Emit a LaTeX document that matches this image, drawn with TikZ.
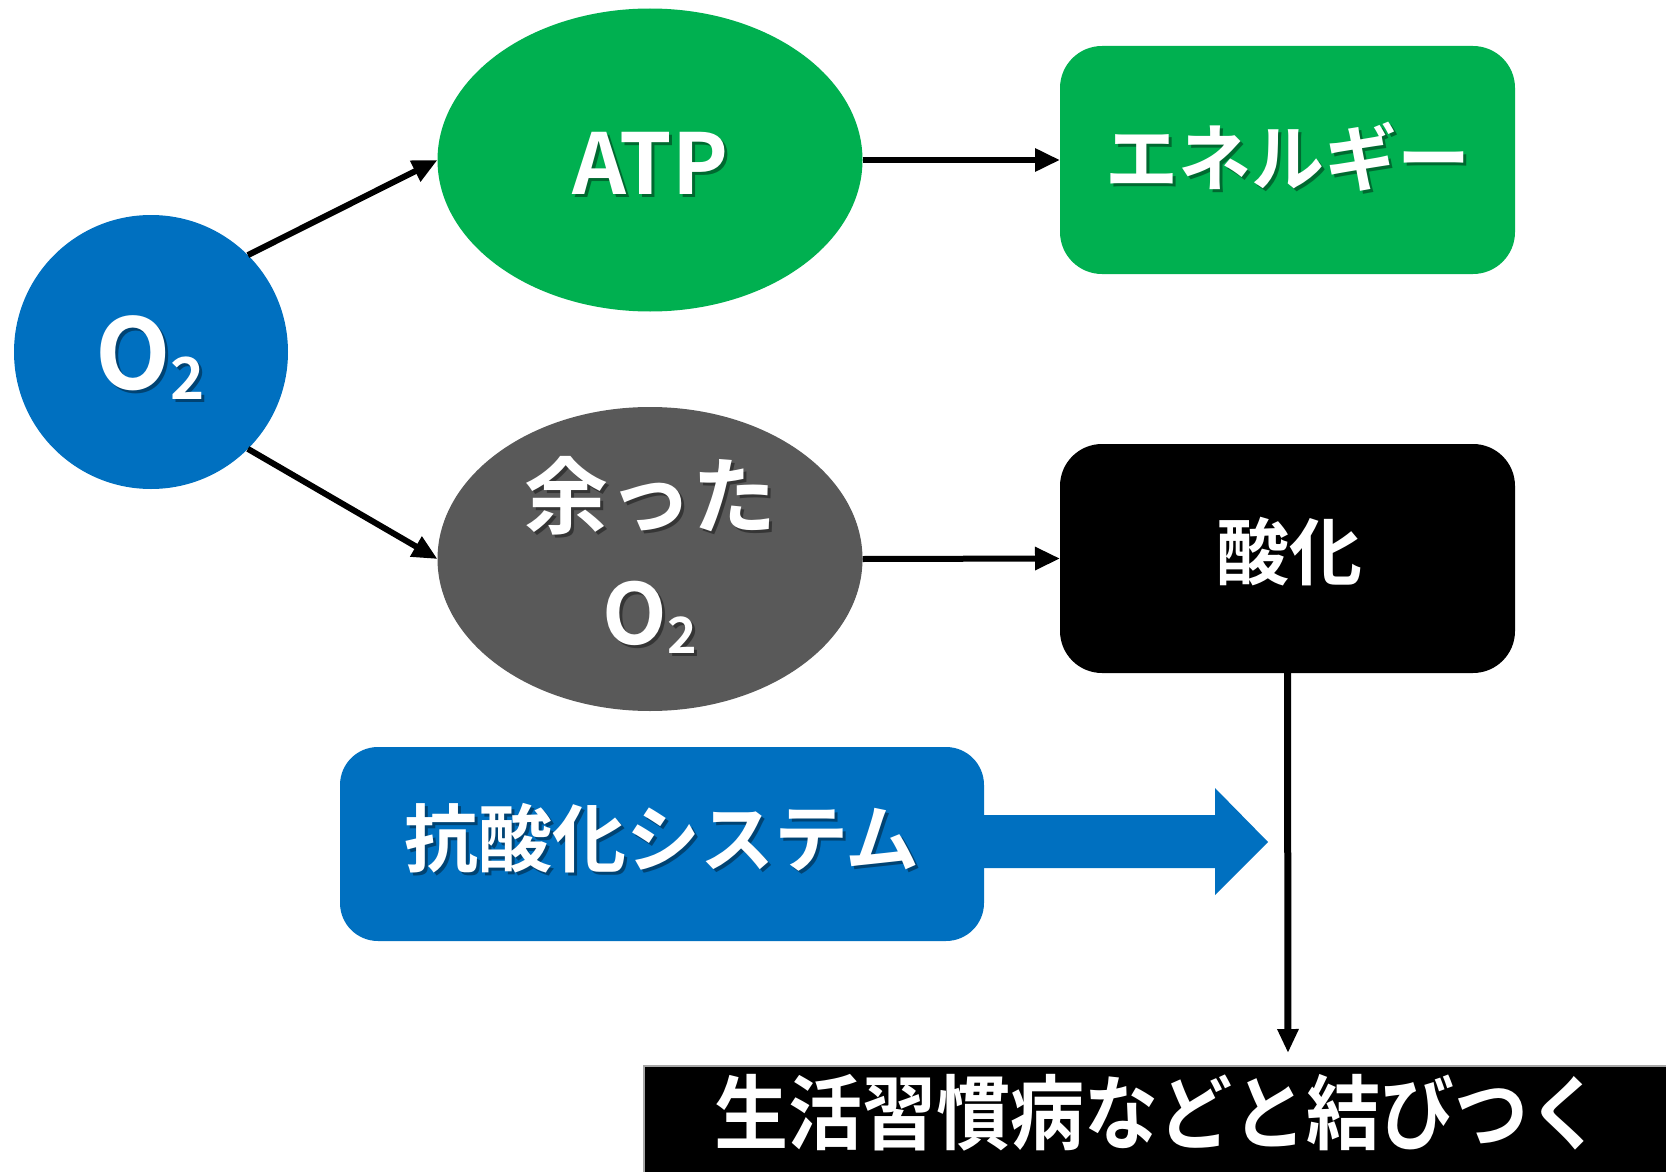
\documentclass[tikz,border=0pt]{standalone}
\usepackage{fontspec}
\setmainfont{Noto Sans CJK JP Bold}
\usetikzlibrary{shapes.geometric,arrows.meta}
\definecolor{cblue}{HTML}{0070C0}
\definecolor{cgreen}{HTML}{00B050}
\definecolor{cgray}{HTML}{595959}
\newcommand\fsz[1]{\fontsize{#1pt}{#1pt}\selectfont}
\newcommand\Otwo[3]{O{\fsz{#1}\raisebox{-#2pt}{2}}\hspace{#3pt}}
\newcommand\shtext[4]{%
  \node[shtxt,font=\fsz{#3}] (#1s) at ([shift={(3,3)}]#2) {#4};
  \node[wtxt,font=\fsz{#3}] (#1) at (#2) {#4};}
\begin{document}
\begin{tikzpicture}[x=1pt,y=-1pt,
  blk/.style={inner sep=0pt,outer sep=0pt},
  wtxt/.style={text=white,inner sep=0pt,align=center},
  shtxt/.style={text=black,text opacity=0.4,inner sep=0pt,align=center},
  conn/.style={draw=black,line width=6pt,-{Triangle[length=25pt,width=22pt]}},
]
\useasboundingbox (0,0) rectangle (1666,1172);
% shapes
\node[blk,circle,fill=cblue,minimum size=274pt] (o2) at (151,352) {};
\node[blk,ellipse,fill=cgreen,minimum width=425pt,minimum height=303pt] (atp) at (650,160) {};
\node[blk,rectangle,rounded corners=42pt,fill=cgreen,minimum width=455pt,minimum height=228pt] (energy) at (1287.5,160) {};
\node[blk,ellipse,fill=cgray,minimum width=425pt,minimum height=304pt] (amari) at (650,559) {};
\node[blk,rectangle,rounded corners=42pt,fill=black,minimum width=455pt,minimum height=229pt] (sanka) at (1287.5,558.5) {};
\node[blk,rectangle,rounded corners=38pt,fill=cblue,minimum width=644pt,minimum height=194pt] (kou) at (662,844) {};
\node[blk,rectangle,fill=black,draw=gray!70,line width=2pt,minimum width=1030pt,minimum height=107pt] (bar) at (1159,1119) {};
% connectors
\draw[conn] (o2.45) -- (atp.west);
\draw[conn] (o2.-45) -- (amari.west);
\draw[conn] (atp.east) -- (energy.west);
\draw[conn] (amari.east) -- (sanka.west);
\coordinate (vend) at (1288,1053);
\draw[draw=black,line width=7pt,-{Triangle[length=24pt,width=20pt]}] (sanka.south) -- (vend);
% block arrow
\coordinate (btip) at (1268,842);
\fill[cblue] ([shift={(-2,-29)}]kou.east) -- (1215,815) -- (1215,788) -- (btip) -- (1215,895) -- (1215,868) -- ([shift={(-2,24)}]kou.east) -- cycle;
% texts
\shtext{o2t}{150,358}{98}{\Otwo{58}{10}{0}}
\shtext{atpt}{650,163}{84}{ATP}
\shtext{energyt}{1288,157}{73}{エネルギー}
\shtext{amarit1}{650,496}{84}{余った}
\shtext{amarit2}{650,617}{84}{\Otwo{50}{9}{0}}
\shtext{sankat}{1289,552}{73}{酸化}
\shtext{kout}{662,838}{74}{抗酸化システム}
\node[wtxt,font=\fsz{74}] (bart) at (1158,1113) {\scalebox{1}[1.1]{生活習慣病などと結びつく}};
\end{tikzpicture}
\end{document}
